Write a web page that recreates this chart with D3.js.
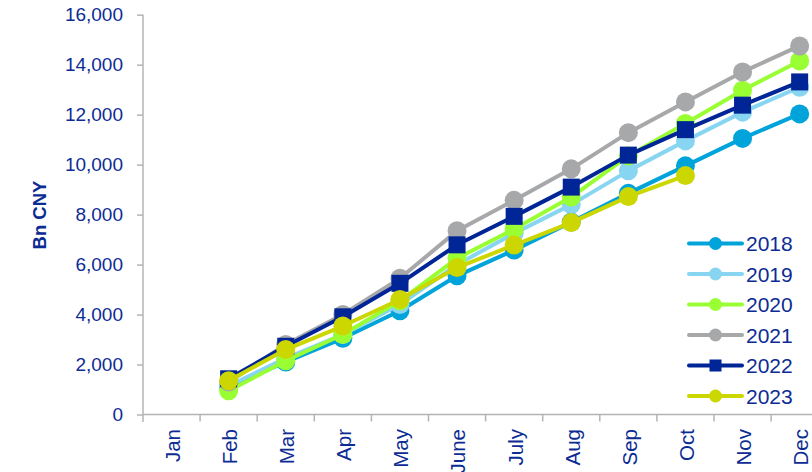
<!DOCTYPE html>
<html>
<head>
<meta charset="utf-8">
<script src="https://cdn.jsdelivr.net/npm/d3@7/dist/d3.min.js"></script>
<style>
  html, body { margin: 0; padding: 0; background: #ffffff; }
  svg { display: block; font-family: "Liberation Sans", Arial, sans-serif; }
</style>
</head>
<body>
<svg id="chart" width="812" height="472"></svg>
<script>
const months = ["Jan","Feb","Mar","Apr","May","June","July","Aug","Sep","Oct","Nov","Dec"];
const yTicks = [0, 2000, 4000, 6000, 8000, 10000, 12000, 14000, 16000];
const seriesNames = ["2018","2019","2020","2021","2022","2023"];
const v2018 = [null, 1100, 2100, 3050, 4150, 5550, 6580, 7700, 8850, 9950, 11050, 12030];
const v2019 = [null, 1150, 2250, 3200, 4400, 6000, 7250, 8400, 9750, 10950, 12100, 13100];
const v2020 = [null, 950, 2150, 3200, 4550, 6250, 7420, 8700, 10350, 11650, 12980, 14150];
const v2021 = [null, 1300, 2800, 4000, 5450, 7350, 8570, 9830, 11280, 12510, 13710, 14750];
const v2022 = [null, 1430, 2730, 3910, 5250, 6790, 7930, 9100, 10380, 11400, 12380, 13310];
const v2023 = [null, 1350, 2600, 3540, 4600, 5880, 6780, 7680, 8720, 9560, null, null];
const seriesValues = [v2018, v2019, v2020, v2021, v2022, v2023];
const seriesColors = ["#00A3DA", "#88D5F2", "#99FF33", "#A7A8AA", "#002596", "#CCD600"];
const seriesMarkers = ["circle","circle","circle","circle","square","circle"];

const textColor = "#0C2C94";
const axisColor = "#B4B4B4";

const svg = d3.select("#chart");
const x0 = 143, xEnd = 143 + 12 * 57.1;
const x = d3.scaleBand().domain(months).range([x0, xEnd]).padding(0);
const cx = m => x(m) + x.bandwidth() / 2;
const y = d3.scaleLinear().domain([0, 16000]).range([414.5, 14.7]);

// Y axis
const yAxis = d3.axisLeft(y).tickValues(yTicks).tickSize(6).tickPadding(14)
  .tickFormat(d3.format(","));
const gy = svg.append("g").attr("transform", `translate(${x0},0)`).call(yAxis);
gy.select(".domain").remove();
gy.selectAll(".tick line").attr("stroke", axisColor).attr("stroke-width", 1.5);
gy.selectAll(".tick text").attr("fill", textColor).attr("font-size", 19)
  .attr("font-family", "Liberation Sans, Arial, sans-serif");
svg.append("line").attr("x1", x0).attr("x2", x0).attr("y1", y(16000)).attr("y2", 422)
  .attr("stroke", axisColor).attr("stroke-width", 1.5);

// X axis
svg.append("line").attr("x1", x0).attr("x2", 812).attr("y1", y(0)).attr("y2", y(0))
  .attr("stroke", axisColor).attr("stroke-width", 1.5);
svg.append("g").selectAll("line").data(months.slice(1)).join("line")
  .attr("x1", d => x(d)).attr("x2", d => x(d))
  .attr("y1", y(0)).attr("y2", y(0) + 7)
  .attr("stroke", axisColor).attr("stroke-width", 1.5);
svg.append("g").selectAll("text").data(months).join("text")
  .attr("transform", d => `translate(${cx(d) + 1},429) rotate(-90)`)
  .attr("text-anchor", "end").attr("dy", "0.36em")
  .attr("fill", textColor).attr("font-size", 20.5)
  .text(d => d);

// Y title
svg.append("text")
  .attr("transform", "translate(39.5,215) rotate(-90)")
  .attr("text-anchor", "middle").attr("dy", "0.36em")
  .attr("fill", textColor).attr("font-size", 18.5).attr("font-weight", "bold")
  .text("Bn CNY");

// Series
const line = d3.line().defined(d => d.v != null).x(d => cx(d.m)).y(d => y(d.v));
seriesNames.forEach((name, i) => {
  const pts = months.map((m, j) => ({ m, v: seriesValues[i][j] }));
  const g = svg.append("g");
  g.append("path").datum(pts).attr("d", line)
    .attr("fill", "none").attr("stroke", seriesColors[i]).attr("stroke-width", 4)
    .attr("stroke-linejoin", "round");
  const valid = pts.filter(d => d.v != null);
  if (seriesMarkers[i] === "square") {
    g.selectAll("rect").data(valid).join("rect")
      .attr("x", d => cx(d.m) - 8.5).attr("y", d => y(d.v) - 8.5)
      .attr("width", 17).attr("height", 17).attr("fill", seriesColors[i]);
  } else {
    g.selectAll("circle").data(valid).join("circle")
      .attr("cx", d => cx(d.m)).attr("cy", d => y(d.v)).attr("r", 9.5)
      .attr("fill", seriesColors[i]);
  }
});

// Legend
const legend = svg.append("g");
const legY0 = 243.5, legStep = 30.5;
seriesNames.forEach((name, i) => {
  const ly = legY0 + i * legStep;
  const g = legend.append("g");
  g.append("line").attr("x1", 689).attr("x2", 742).attr("y1", ly).attr("y2", ly)
    .attr("stroke", seriesColors[i]).attr("stroke-width", 4).attr("stroke-linecap", "round");
  if (seriesMarkers[i] === "square") {
    g.append("rect").attr("x", 715.5 - 6).attr("y", ly - 6).attr("width", 12).attr("height", 12)
      .attr("fill", seriesColors[i]);
  } else {
    g.append("circle").attr("cx", 715.5).attr("cy", ly).attr("r", 6.5).attr("fill", seriesColors[i]);
  }
  g.append("text").attr("x", 746).attr("y", ly).attr("dy", "0.36em")
    .attr("fill", textColor).attr("font-size", 21).text(name);
});
</script>
</body>
</html>
